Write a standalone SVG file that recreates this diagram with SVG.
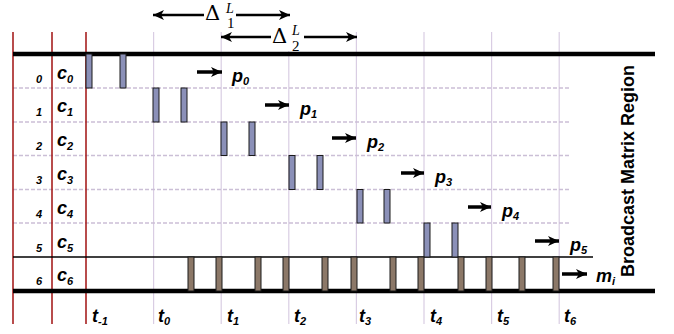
<svg xmlns="http://www.w3.org/2000/svg" width="674" height="334" viewBox="0 0 674 334">
<defs>
<marker id="ah" markerUnits="userSpaceOnUse" markerWidth="12" markerHeight="12" viewBox="0 0 12 12" refX="11" refY="6" orient="auto-start-reverse">
<path d="M0,1 L11,6 L0,11 L3,6 Z" fill="#000"/>
</marker>
</defs>
<style>
.red{stroke:#a01010;stroke-width:1.5;fill:none}
.grid{stroke:#d9cde3;stroke-width:1.2;fill:none}
.dash{stroke:#cbbfd6;stroke-width:1.6;stroke-dasharray:4 2;fill:none}
.thick{stroke:#000;stroke-width:4.5}
.thin{stroke:#000;stroke-width:1.6}
.blue{fill:#8b90b8;stroke:#1a1a1a;stroke-width:1}
.brown{fill:#8c7868;stroke:#1a1a1a;stroke-width:1}
.arr{stroke:#000;stroke-width:3.5;fill:none;marker-end:url(#ah)}
.darr{stroke:#000;stroke-width:2.5;fill:none;marker-end:url(#ah);marker-start:url(#ah)}
.lab{font-family:"Liberation Sans",Arial,sans-serif;font-weight:bold;font-style:italic;fill:#000}
.big{font-size:18px}
.sub{font-size:11px}
.num{font-size:11px}
.ser{font-family:"Liberation Serif","Times New Roman",serif;fill:#000}
.delta{font-family:"DejaVu Serif",serif;font-size:21px;fill:#000}
.side{font-family:"Liberation Sans",Arial,sans-serif;font-weight:bold;font-size:18px;fill:#000}
</style>

<g id="grid">
<line class="grid" x1="153.6" y1="32" x2="153.6" y2="324"/>
<line class="grid" x1="221.2" y1="32" x2="221.2" y2="324"/>
<line class="grid" x1="288.8" y1="32" x2="288.8" y2="324"/>
<line class="grid" x1="356.4" y1="32" x2="356.4" y2="324"/>
<line class="grid" x1="424" y1="32" x2="424" y2="324"/>
<line class="grid" x1="491.6" y1="32" x2="491.6" y2="324"/>
<line class="grid" x1="559.2" y1="32" x2="559.2" y2="324"/>
<line class="dash" x1="13" y1="88" x2="569" y2="88"/>
<line class="dash" x1="13" y1="122" x2="569" y2="122"/>
<line class="dash" x1="13" y1="155.5" x2="569" y2="155.5"/>
<line class="dash" x1="13" y1="189.5" x2="569" y2="189.5"/>
<line class="dash" x1="13" y1="223" x2="569" y2="223"/>
<line class="red" x1="13" y1="32" x2="13" y2="324"/>
<line class="red" x1="52" y1="32" x2="52" y2="324"/>
<line class="red" x1="86" y1="32" x2="86" y2="324"/>
<line class="thick" x1="13" y1="54" x2="655" y2="54"/>
<line class="thin" x1="13" y1="257" x2="593" y2="257"/>
<line class="thick" x1="13" y1="291" x2="655" y2="291"/>
</g>

<g id="row0">
<text class="lab num" x="36" y="83">0</text>
<text class="lab big" x="57" y="79">c<tspan class="sub" dy="4">0</tspan></text>
<rect class="blue" x="86" y="54" width="6" height="34"/>
<rect class="blue" x="120" y="54" width="6" height="34"/>
</g>
<g id="row1">
<text class="lab num" x="36" y="116">1</text>
<text class="lab big" x="57" y="112">c<tspan class="sub" dy="4">1</tspan></text>
<rect class="blue" x="153" y="88" width="6" height="34"/>
<rect class="blue" x="181" y="88" width="6" height="34"/>
</g>
<g id="row2">
<text class="lab num" x="36" y="150">2</text>
<text class="lab big" x="57" y="146">c<tspan class="sub" dy="4">2</tspan></text>
<rect class="blue" x="221" y="122" width="6" height="33.5"/>
<rect class="blue" x="249" y="122" width="6" height="33.5"/>
</g>
<g id="row3">
<text class="lab num" x="36" y="184">3</text>
<text class="lab big" x="57" y="180">c<tspan class="sub" dy="4">3</tspan></text>
<rect class="blue" x="289" y="155.5" width="6" height="34"/>
<rect class="blue" x="317" y="155.5" width="6" height="34"/>
</g>
<g id="row4">
<text class="lab num" x="36" y="218">4</text>
<text class="lab big" x="57" y="214">c<tspan class="sub" dy="4">4</tspan></text>
<rect class="blue" x="357" y="189.5" width="6" height="33.5"/>
<rect class="blue" x="384" y="189.5" width="6" height="33.5"/>
</g>
<g id="row5">
<text class="lab num" x="36" y="252">5</text>
<text class="lab big" x="57" y="248">c<tspan class="sub" dy="4">5</tspan></text>
<rect class="blue" x="424" y="223" width="6" height="34"/>
<rect class="blue" x="452" y="223" width="6" height="34"/>
</g>
<g id="row6">
<text class="lab num" x="36" y="285">6</text>
<text class="lab big" x="57" y="281">c<tspan class="sub" dy="4">6</tspan></text>
<rect class="brown" x="188" y="257" width="6" height="34"/>
<rect class="brown" x="216" y="257" width="6" height="34"/>
<rect class="brown" x="255" y="257" width="6" height="34"/>
<rect class="brown" x="283" y="257" width="6" height="34"/>
<rect class="brown" x="322" y="257" width="6" height="34"/>
<rect class="brown" x="351" y="257" width="6" height="34"/>
<rect class="brown" x="390" y="257" width="6" height="34"/>
<rect class="brown" x="418" y="257" width="6" height="34"/>
<rect class="brown" x="458" y="257" width="6" height="34"/>
<rect class="brown" x="486" y="257" width="6" height="34"/>
<rect class="brown" x="519" y="257" width="6" height="34"/>
<rect class="brown" x="553" y="257" width="6" height="34"/>
</g>

<g id="connectors">
<line class="arr" x1="197" y1="72" x2="222" y2="72"/>
<line class="arr" x1="265" y1="105" x2="289" y2="105"/>
<line class="arr" x1="332" y1="138" x2="356" y2="138"/>
<line class="arr" x1="401" y1="173" x2="424" y2="173"/>
<line class="arr" x1="468" y1="207" x2="491" y2="207"/>
<line class="arr" x1="535" y1="241" x2="559" y2="241"/>
<line class="arr" x1="562" y1="274" x2="587" y2="274"/>
<line class="darr" x1="153" y1="15" x2="290" y2="15"/>
<line class="darr" x1="221" y1="37" x2="357" y2="37"/>
</g>

<g id="outputs">
<text class="lab big" x="232" y="82">p<tspan class="sub" dy="3">0</tspan></text>
<text class="lab big" x="300" y="115">p<tspan class="sub" dy="3">1</tspan></text>
<text class="lab big" x="367" y="148">p<tspan class="sub" dy="3">2</tspan></text>
<text class="lab big" x="435" y="183">p<tspan class="sub" dy="3">3</tspan></text>
<text class="lab big" x="502" y="217">p<tspan class="sub" dy="3">4</tspan></text>
<text class="lab big" x="570" y="251">p<tspan class="sub" dy="3">5</tspan></text>
<text class="lab big" x="596" y="282">m<tspan class="sub" dy="3">i</tspan></text>
</g>

<g id="deltas">
<rect x="204" y="4" width="32" height="25" fill="#fff"/>
<text class="delta" x="205" y="20">Δ</text>
<text class="ser" x="226" y="13" font-size="14" font-style="italic">L</text>
<text class="ser" x="227" y="28" font-size="15">1</text>
<rect x="271" y="25" width="33" height="26" fill="#fff"/>
<text class="delta" x="272" y="43">Δ</text>
<text class="ser" x="292" y="35" font-size="14" font-style="italic">L</text>
<text class="ser" x="292" y="51" font-size="15">2</text>
</g>

<g id="times">
<text class="lab big" x="92" y="322">t<tspan class="sub" dy="3">-1</tspan></text>
<text class="lab big" x="158" y="322">t<tspan class="sub" dy="3">0</tspan></text>
<text class="lab big" x="227" y="322">t<tspan class="sub" dy="3">1</tspan></text>
<text class="lab big" x="294" y="322">t<tspan class="sub" dy="3">2</tspan></text>
<text class="lab big" x="359" y="322">t<tspan class="sub" dy="3">3</tspan></text>
<text class="lab big" x="430" y="322">t<tspan class="sub" dy="3">4</tspan></text>
<text class="lab big" x="497" y="322">t<tspan class="sub" dy="3">5</tspan></text>
<text class="lab big" x="564" y="322">t<tspan class="sub" dy="3">6</tspan></text>
</g>

<g id="region-label">
<text class="side" transform="translate(634,171) rotate(-90)" text-anchor="middle">Broadcast Matrix Region</text>
</g>
</svg>
